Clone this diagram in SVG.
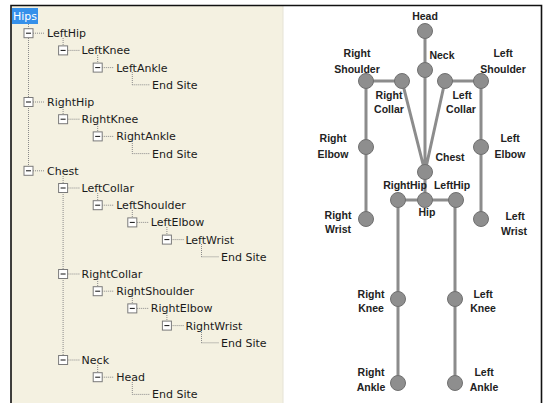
<svg xmlns="http://www.w3.org/2000/svg" width="547" height="403" viewBox="0 0 547 403">
<style>
.t{font-family:"DejaVu Sans",Verdana,sans-serif;font-size:11px;fill:#1a1a1a}
.dl{stroke:#8a8a8a;stroke-width:1;stroke-dasharray:1 1;fill:none}
.bx{fill:#ffffff;stroke:#7a7a7a;stroke-width:1}
.mn{stroke:#111;stroke-width:1}
.bone{stroke:#8c8c8c;stroke-width:3;fill:none}
.j{fill:#8e8e8e;stroke:#707070;stroke-width:1}
.lb{font-family:"Liberation Sans",Arial,sans-serif;font-size:10.5px;font-weight:bold;fill:#222;text-anchor:middle}
</style>
<defs>
<g id="box"><rect class="bx" x="-4.5" y="-4.5" width="9" height="9"/><line class="mn" x1="-2.5" y1="0" x2="2.5" y2="0"/></g>
</defs>
<rect x="0" y="0" width="547" height="403" fill="#ffffff"/>
<rect x="11" y="5" width="272" height="398" fill="#f4f1e1"/>
<line x1="283" y1="6" x2="283" y2="403" stroke="#e6e3d6" stroke-width="1"/>
<path d="M11 403 V5.5 H541.5 V403" fill="none" stroke="#111" stroke-width="1.6"/>

<g id="tree-connectors">
<path class="dl" d="M28.5 24V170.8 M63.1 38V50.4 M97.7 55V67.6 M132.3 72V84.8 M63.1 107V119.2 M97.7 124V136.4 M132.3 141V153.6 M63.1 176V360 M97.7 193V205.2 M132.3 210V222.4 M166.9 227V239.6 M201.5 244V256.8 M97.7 279V291.2 M132.3 296V308.4 M166.9 313V325.6 M201.5 330V342.8 M97.7 365V377.2 M132.3 382V394.4"/>
<path class="dl" d="M33 33.2H45 M67.6 50.4H80 M102.2 67.6H114 M132.3 84.8H150 M33 102H45 M67.6 119.2H80 M102.2 136.4H114 M132.3 153.6H150 M33 170.8H45 M67.6 188H80 M102.2 205.2H114 M136.8 222.4H149 M171.4 239.6H184 M201.5 256.8H219 M67.6 274H80 M102.2 291.2H114 M136.8 308.4H149 M171.4 325.6H184 M201.5 342.8H219 M67.6 360H80 M102.2 377.2H114 M132.3 394.4H150"/>
</g>

<g id="t-hips"><rect x="12" y="8" width="26" height="16" fill="#3590ea"/><text class="t" x="13" y="20" style="fill:#fff">Hips</text></g>
<g id="t-lefthip"><use href="#box" x="28.5" y="33.2"/><text class="t" x="47" y="37.2">LeftHip</text></g>
<g id="t-leftknee"><use href="#box" x="63.1" y="50.4"/><text class="t" x="81.6" y="54.4">LeftKnee</text></g>
<g id="t-leftankle"><use href="#box" x="97.7" y="67.6"/><text class="t" x="116.2" y="71.6">LeftAnkle</text></g>
<g id="t-end1"><text class="t" x="152" y="88.8">End Site</text></g>
<g id="t-righthip"><use href="#box" x="28.5" y="102"/><text class="t" x="47" y="106">RightHip</text></g>
<g id="t-rightknee"><use href="#box" x="63.1" y="119.2"/><text class="t" x="81.6" y="123.2">RightKnee</text></g>
<g id="t-rightankle"><use href="#box" x="97.7" y="136.4"/><text class="t" x="116.2" y="140.4">RightAnkle</text></g>
<g id="t-end2"><text class="t" x="152" y="157.6">End Site</text></g>
<g id="t-chest"><use href="#box" x="28.5" y="170.8"/><text class="t" x="47" y="174.8">Chest</text></g>
<g id="t-leftcollar"><use href="#box" x="63.1" y="188"/><text class="t" x="81.6" y="192">LeftCollar</text></g>
<g id="t-leftshoulder"><use href="#box" x="97.7" y="205.2"/><text class="t" x="116.2" y="209.2">LeftShoulder</text></g>
<g id="t-leftelbow"><use href="#box" x="132.3" y="222.4"/><text class="t" x="150.8" y="226.4">LeftElbow</text></g>
<g id="t-leftwrist"><use href="#box" x="166.9" y="239.6"/><text class="t" x="185.4" y="243.6">LeftWrist</text></g>
<g id="t-end3"><text class="t" x="221" y="260.8">End Site</text></g>
<g id="t-rightcollar"><use href="#box" x="63.1" y="274"/><text class="t" x="81.6" y="278">RightCollar</text></g>
<g id="t-rightshoulder"><use href="#box" x="97.7" y="291.2"/><text class="t" x="116.2" y="295.2">RightShoulder</text></g>
<g id="t-rightelbow"><use href="#box" x="132.3" y="308.4"/><text class="t" x="150.8" y="312.4">RightElbow</text></g>
<g id="t-rightwrist"><use href="#box" x="166.9" y="325.6"/><text class="t" x="185.4" y="329.6">RightWrist</text></g>
<g id="t-end4"><text class="t" x="221" y="346.8">End Site</text></g>
<g id="t-neck"><use href="#box" x="63.1" y="360"/><text class="t" x="81.6" y="364">Neck</text></g>
<g id="t-head"><use href="#box" x="97.7" y="377.2"/><text class="t" x="116.2" y="381.2">Head</text></g>
<g id="t-end5"><text class="t" x="152" y="398.4">End Site</text></g>

<g id="bones">
<path class="bone" d="M425 31V200 M366 81H402 L425 172 M445 81H481 M445 81L425 172 M366 81V219 M481 81V219 M398 200H456 M398 200V383 M455 200V383"/>
</g>

<g id="j-head"><circle class="j" cx="425" cy="31" r="7.5"/><text class="lb" x="425" y="20">Head</text></g>
<g id="j-neck"><circle class="j" cx="425" cy="70" r="7.5"/><text class="lb" x="442" y="59">Neck</text></g>
<g id="j-rshoulder"><circle class="j" cx="366" cy="81" r="7.5"/><text class="lb" x="357" y="57">Right</text><text class="lb" x="357" y="73">Shoulder</text></g>
<g id="j-rcollar"><circle class="j" cx="402" cy="81" r="7.5"/><text class="lb" x="389" y="99">Right</text><text class="lb" x="389" y="113">Collar</text></g>
<g id="j-lcollar"><circle class="j" cx="445" cy="81" r="7.5"/><text class="lb" x="462" y="99">Left</text><text class="lb" x="461" y="113">Collar</text></g>
<g id="j-lshoulder"><circle class="j" cx="481" cy="81" r="7.5"/><text class="lb" x="503" y="57">Left</text><text class="lb" x="503" y="73">Shoulder</text></g>
<g id="j-relbow"><circle class="j" cx="366" cy="147" r="7.5"/><text class="lb" x="333" y="142">Right</text><text class="lb" x="333" y="158">Elbow</text></g>
<g id="j-lelbow"><circle class="j" cx="481" cy="147" r="7.5"/><text class="lb" x="510" y="142">Left</text><text class="lb" x="510" y="158">Elbow</text></g>
<g id="j-chest"><circle class="j" cx="425" cy="172" r="7.5"/><text class="lb" x="450" y="161">Chest</text></g>
<g id="j-righthip"><circle class="j" cx="398" cy="200" r="7.5"/><text class="lb" x="405" y="189">RightHip</text></g>
<g id="j-hip"><circle class="j" cx="425" cy="200" r="7.5"/><text class="lb" x="427" y="216">Hip</text></g>
<g id="j-lefthip"><circle class="j" cx="456" cy="200" r="7.5"/><text class="lb" x="452" y="189">LeftHip</text></g>
<g id="j-rwrist"><circle class="j" cx="366" cy="219" r="7.5"/><text class="lb" x="338" y="219">Right</text><text class="lb" x="338" y="233">Wrist</text></g>
<g id="j-lwrist"><circle class="j" cx="481" cy="219" r="7.5"/><text class="lb" x="515" y="220">Left</text><text class="lb" x="514" y="235">Wrist</text></g>
<g id="j-rknee"><circle class="j" cx="398" cy="299" r="7.5"/><text class="lb" x="371" y="298">Right</text><text class="lb" x="371" y="312">Knee</text></g>
<g id="j-lknee"><circle class="j" cx="455" cy="299" r="7.5"/><text class="lb" x="483" y="298">Left</text><text class="lb" x="483" y="312">Knee</text></g>
<g id="j-rankle"><circle class="j" cx="398" cy="383" r="7.5"/><text class="lb" x="371" y="376">Right</text><text class="lb" x="371" y="391">Ankle</text></g>
<g id="j-lankle"><circle class="j" cx="455" cy="383" r="7.5"/><text class="lb" x="484" y="376">Left</text><text class="lb" x="484" y="391">Ankle</text></g>
</svg>
